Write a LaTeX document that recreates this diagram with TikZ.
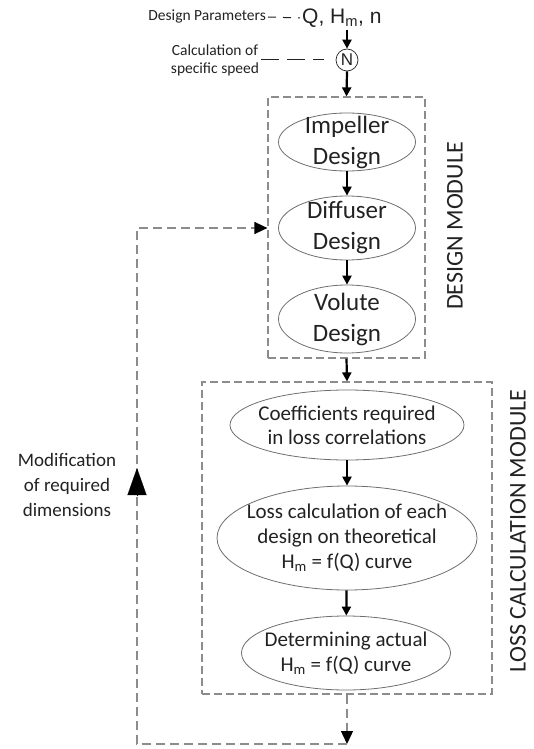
\documentclass[tikz,border=0pt]{standalone}
\usepackage{fontspec}
\setmainfont{Carlito}
\newfontfamily\arialf{Liberation Sans}
\usetikzlibrary{arrows.meta,shapes.geometric}
\definecolor{dgray}{HTML}{8C8C8C}
\definecolor{egray}{HTML}{6E6E6E}
\definecolor{txt}{HTML}{222222}
\begin{document}
\begin{tikzpicture}[x=1pt,y=-1pt,
  ell/.style={draw=egray, line width=0.8pt, ellipse, inner sep=-40pt, align=center, text=txt},
  modbox/.style={draw=dgray, dash pattern=on 8pt off 4pt, line width=1.2pt, inner sep=0pt, rectangle},
  arr/.style={line width=2.2pt, -{Triangle[length=9pt,width=9pt]}},
  fb/.style={draw=dgray, line width=1.3pt, dash pattern=on 9pt off 5pt},
  fbtip/.style={-{Triangle[length=13pt,width=12pt,fill=black,color=black]}},
  lbl/.style={text=txt, align=center, inner sep=2pt}]
\useasboundingbox (0,0) rectangle (534,749);

% top inputs
\node[lbl, anchor=east, font=\fontsize{15.5}{18}\selectfont] (params) at (268,17) {Design Parameters};
\node[lbl, anchor=west, font=\arialf\fontsize{21}{24}\selectfont] (qhn) at (300,18) {Q, H\textsubscript{m}, n};
\node[circle, draw=txt, line width=0.7pt, minimum size=22pt, inner sep=0pt, text=txt, font=\arialf\fontsize{17}{17}\selectfont] (N) at (347,60) {N};
\node[lbl, font=\fontsize{15.5}{18}\selectfont] (calc) at (215,60) {Calculation of\\specific speed};

\draw[txt, line width=1pt, dash pattern=on 8pt off 7pt] (params.east) -- (qhn.west);
\draw[txt, line width=1pt, dash pattern=on 18pt off 8pt, shorten >=12pt] (calc.east) -- (N.west);
\draw[arr] (N |- qhn.south) -- (N.north);

% design module
\node[modbox, minimum width=157pt, minimum height=261pt] (dbox) at (346.5,227.5) {};
\node[ell, minimum width=137pt, minimum height=58pt, font=\fontsize{25}{31}\selectfont] (imp) at (347,142) {Impeller\\Design};
\node[ell, minimum width=137pt, minimum height=64pt, font=\fontsize{25}{31}\selectfont] (diff) at (347,228) {Diffuser\\Design};
\node[ell, minimum width=137pt, minimum height=68pt, font=\fontsize{25}{31}\selectfont] (vol) at (347,319) {Volute\\Design};
\node[lbl, rotate=90, font=\fontsize{24}{28}\selectfont] (dlab) at (455,226) {DESIGN MODULE};

\draw[arr] (N.south) -- (dbox.north);
\draw[arr] (imp) -- (diff);
\draw[arr] (diff) -- (vol);

% loss module
\node[modbox, minimum width=290pt, minimum height=312pt] (lbox) at (347,538) {};
\node[ell, minimum width=234pt, minimum height=70pt, font=\fontsize{21}{24}\selectfont] (coef) at (347,425) {Coefficients required\\in loss correlations};
\node[ell, minimum width=260pt, minimum height=104pt, font=\fontsize{21}{25}\selectfont] (lcalc) at (347,538) {Loss calculation of each\\design on theoretical\\H\textsubscript{m} = f(Q) curve};
\node[ell, minimum width=209pt, minimum height=74pt, font=\fontsize{21}{25}\selectfont] (det) at (346,653) {Determining actual\\H\textsubscript{m} = f(Q) curve};
\node[lbl, rotate=90, font=\fontsize{24}{28}\selectfont] (llab) at (518,531) {LOSS CALCULATION MODULE};

\draw[arr] (dbox.south) -- (lbox.north);
\draw[arr] (coef) -- (lcalc);
\draw[arr] (lcalc) -- (det);

% feedback loop
\coordinate (fbA) at (347,744);
\coordinate (fbL) at (137,744);
\coordinate (fbT) at (137,228);
\coordinate (upB) at (137,496);
\coordinate (upT) at (137,468);
\draw[fb, fbtip] (lbox.south) -- (fbA);
\draw[fb, fbtip] (fbA) -- (fbL) -- (fbT) -- (dbox.west |- fbT);
\draw[line width=0.2pt, -{Triangle[length=27pt,width=19pt]}] (upB) -- (upT);
\node[lbl, font=\fontsize{19}{25}\selectfont] (modif) at (67,485) {Modification\\of required\\dimensions};
\end{tikzpicture}
\end{document}
